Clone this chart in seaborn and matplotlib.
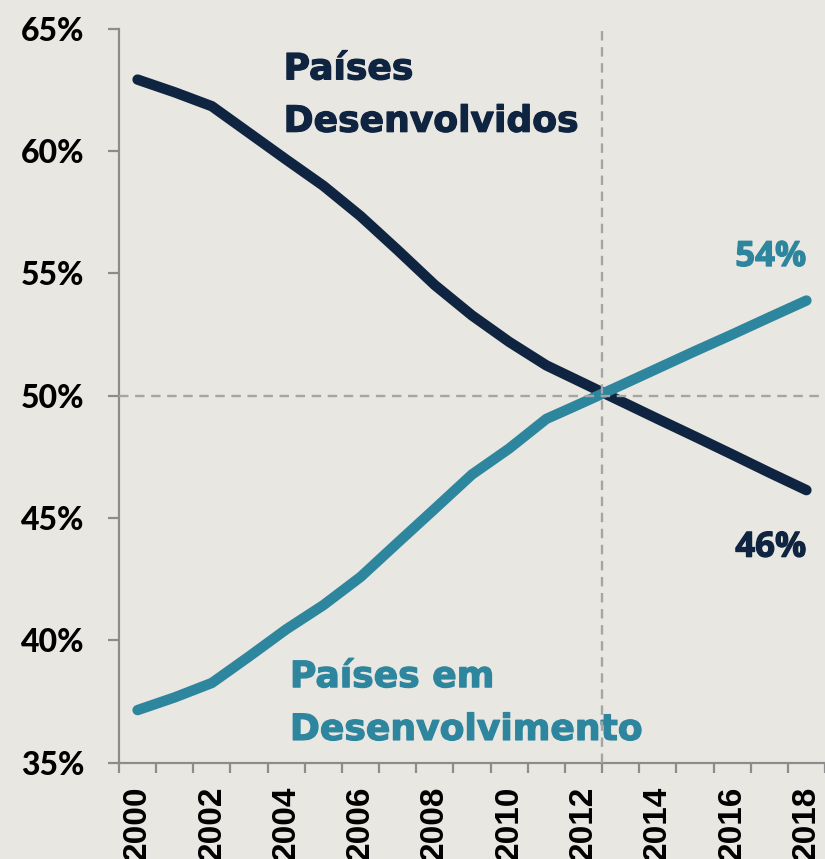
import matplotlib
matplotlib.use("Agg")
import matplotlib.pyplot as plt
import matplotlib.patheffects as pe
import seaborn as sns
import numpy as np

# ---- data ----
years = list(range(2000, 2019))
desenvolvidos = [62.92, 62.40, 61.83, 60.74, 59.65, 58.58, 57.34, 55.95, 54.52,
                 53.28, 52.20, 51.24, 50.51, 49.78, 49.05, 48.33, 47.60, 46.86, 46.14]
em_desenvolvimento = [37.15, 37.67, 38.26, 39.34, 40.45, 41.44, 42.59, 43.99, 45.38,
                      46.78, 47.84, 49.05, 49.73, 50.42, 51.12, 51.82, 52.50, 53.20, 53.89]
x_tick_labels = [str(y) for y in years[::2]]
y_ticks = [35, 40, 45, 50, 55, 60, 65]
y_tick_labels = [f"{v}%" for v in y_ticks]
label_dev = ["Países", "Desenvolvidos"]
label_emdev = ["Países em", "Desenvolvimento"]
end_dev = "46%"
end_emdev = "54%"

NAVY = "#0F2440"
TEAL = "#2E869E"
BG = "#E9E7E1"
AXIS_GRAY = "#8C8C8C"
DASH_GRAY = "#A5A5A5"

sns.set_style("white")
plt.rcParams["font.family"] = ["DejaVu Sans"]

W, H = 825, 859
fig = plt.figure(figsize=(W / 100, H / 100), dpi=100, facecolor=BG)

# axes geometry in pixels
left_px, spine_y, top_y = 119, 762.7, 28.7
unit_x = 37.5
ax = fig.add_axes([left_px / W, (H - spine_y) / H, (W - left_px) / W, (spine_y - top_y) / H])
ax.set_facecolor(BG)

sns.lineplot(x=years, y=desenvolvidos, ax=ax, color=NAVY, linewidth=7.5,
             solid_capstyle="round", solid_joinstyle="round", zorder=3)
sns.lineplot(x=years, y=em_desenvolvimento, ax=ax, color=TEAL, linewidth=7.5,
             solid_capstyle="round", solid_joinstyle="round", zorder=3)

x0 = years[0] - 0.5
ax.set_xlim(x0, x0 + (W - left_px) / unit_x)
ax.set_ylim(35, 65)

# reference lines
ax.axhline(50, color=DASH_GRAY, lw=1.7, dashes=(4, 2.8), zorder=4)
ax.axvline(2012.5, color=DASH_GRAY, lw=1.7, dashes=(4, 2.8), zorder=4)

# spines
for s in ["top", "right"]:
    ax.spines[s].set_visible(False)
for s in ["left", "bottom"]:
    ax.spines[s].set_color(AXIS_GRAY)
    ax.spines[s].set_linewidth(1.6)

# x ticks: labels at even years, tick marks at category boundaries
ax.set_xticks(years[::2])
ax.set_xticklabels(x_tick_labels, rotation=90, fontsize=24, fontweight="bold",
                   family="Liberation Sans", color="black")
ax.set_xticks([y - 0.5 for y in years] + [years[-1] + 0.5], minor=True)
ax.tick_params(axis="x", which="major", length=0, pad=16.5)
ax.tick_params(axis="x", which="minor", length=7.2, width=1.6, color=AXIS_GRAY,
               direction="out", bottom=True)

# y ticks
ax.set_yticks(y_ticks)
ax.set_yticklabels(y_tick_labels, fontsize=23, fontweight="black", family="Lato",
                   color="black")
ax.tick_params(axis="y", which="major", length=8, width=1.6, color=AXIS_GRAY,
               direction="out", left=True, pad=17)
ax.tick_params(axis="y", which="minor", length=0)

# annotations
def bolder(c):
    return [pe.withStroke(linewidth=0.9, foreground=c)]

tfont = dict(fontsize=26, fontweight="bold", family="DejaVu Sans")
pfont = dict(fontsize=25, fontweight="bold", family="Open Sans")
ax.text(2003.93, 62.93, label_dev[0], color=NAVY, va="baseline", ha="left",
        path_effects=bolder(NAVY), **tfont)
ax.text(2003.93, 60.79, label_dev[1], color=NAVY, va="baseline", ha="left",
        path_effects=bolder(NAVY), **tfont)
ax.text(2004.10, 38.09, label_emdev[0], color=TEAL, va="baseline", ha="left",
        path_effects=bolder(TEAL), **tfont)
ax.text(2004.10, 35.93, label_emdev[1], color=TEAL, va="baseline", ha="left",
        path_effects=bolder(TEAL), **tfont)
ax.text(2018.0, 55.30, end_emdev, color=TEAL, va="baseline", ha="right",
        path_effects=bolder(TEAL), **pfont)
ax.text(2018.0, 43.42, end_dev, color=NAVY, va="baseline", ha="right",
        path_effects=bolder(NAVY), **pfont)

fig.savefig("out.png", dpi=100, facecolor=BG)
